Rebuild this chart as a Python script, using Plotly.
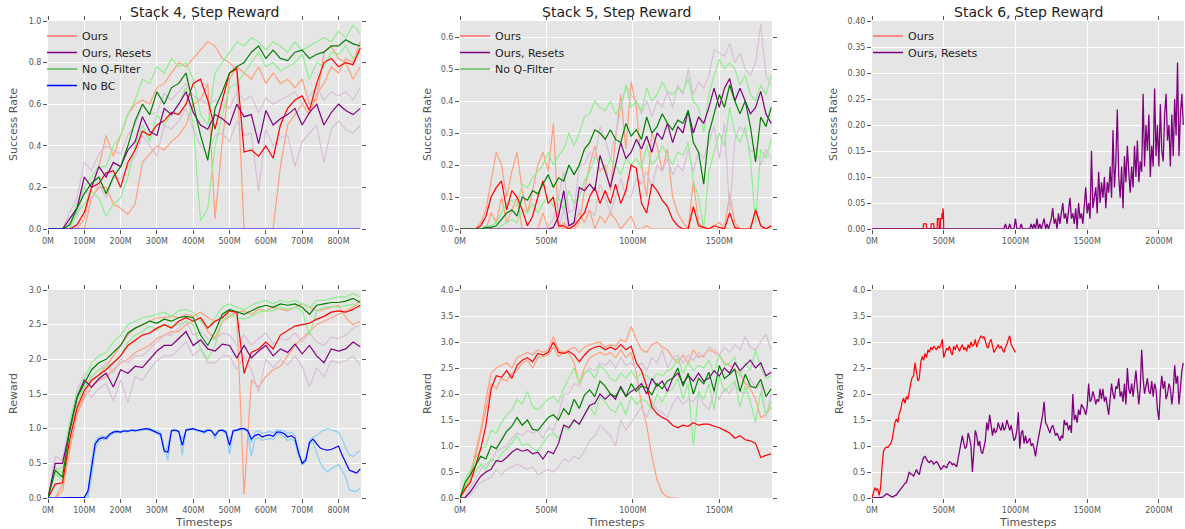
import plotly.graph_objects as go

# ---------------- colours
RED = "#FF0000"; SALMON = "#FFA07A"
PURPLE = "#800080"; THISTLE = "#D8BFD8"
GREEN = "#008000"; LIGHTGREEN = "#90EE90"
BLUE = "#0000FF"; LIGHTBLUE = "#87CEFA"

TITLES = ["Stack 4, Step Reward", "Stack 5, Step Reward", "Stack 6, Step Reward"]
LEGEND_NAMES = ["Ours", "Ours, Resets", "No Q-Filter", "No BC"]

# =============== Stack 4 (x step 20M) =================
S4_STEP = 20
S4_SUCC_OURS = [0, 0, 0, 0, 0.02, 0.08, 0.2, 0.22, 0.27, 0.28, 0.2, 0.32, 0.38, 0.47, 0.45, 0.5, 0.52, 0.56, 0.55, 0.6,
                0.7, 0.72, 0.62, 0.48, 0.62, 0.75, 0.77, 0.37, 0.38, 0.35, 0.4, 0.34, 0.5, 0.58, 0.62, 0.64, 0.57, 0.7, 0.8, 0.82,
                0.78, 0.8, 0.79, 0.87]
S4_SUCC_OURS_SEED1 = [0, 0, 0, 0, 0, 0.05, 0.2, 0.3, 0.45, 0.35, 0.45, 0.55, 0.6, 0.62, 0.6, 0.68, 0.7, 0.75, 0.8, 0.78,
                      0.82, 0.86, 0.9, 0.88, 0.82, 0.8, 0.76, 0, 0, 0, 0, 0, 0.3, 0.5, 0.55, 0.6, 0.55, 0.65, 0.7, 0.78,
                      0.75, 0.82, 0.8, 0.9]
S4_SUCC_OURS_SEED2 = [0, 0, 0, 0, 0, 0, 0.15, 0.2, 0.2, 0.12, 0.1, 0.07, 0.12, 0.32, 0.36, 0.4, 0.38, 0.42, 0.45, 0.5,
                      0.6, 0.62, 0.7, 0.05, 0.42, 0.72, 0.78, 0.75, 0.72, 0.78, 0.7, 0.75, 0.7, 0.72, 0.68, 0.72, 0.6, 0.62,
                      0.85, 0.88, 0.82, 0.8, 0.72, 0.78]
S4_SUCC_RESETS = [0, 0, 0, 0.05, 0.1, 0.25, 0.2, 0.3, 0.25, 0.32, 0.3, 0.38, 0.42, 0.54, 0.47, 0.45, 0.58, 0.55, 0.6, 0.66,
                  0.56, 0.5, 0.48, 0.55, 0.53, 0.5, 0.6, 0.54, 0.55, 0.41, 0.57, 0.5, 0.53, 0.55, 0.58, 0.5, 0.56, 0.6, 0.5,
                  0.56, 0.6, 0.57, 0.55, 0.58]
S4_SUCC_RESETS_SEED1 = [0, 0, 0, 0.08, 0.15, 0.32, 0.28, 0.36, 0.4, 0.38, 0.36, 0.45, 0.5, 0.6, 0.55, 0.56, 0.65, 0.62, 0.66,
                        0.7, 0.64, 0.62, 0.6, 0.62, 0.6, 0.58, 0.66, 0.62, 0.64, 0.56, 0.63, 0.6, 0.62, 0.64, 0.66, 0.6,
                        0.64, 0.68, 0.62, 0.66, 0.64, 0.66, 0.62, 0.68]
S4_SUCC_RESETS_SEED2 = [0, 0, 0, 0.03, 0.06, 0.2, 0.14, 0.22, 0.15, 0.25, 0.24, 0.3, 0.35, 0.45, 0.4, 0.35, 0.5, 0.48, 0.52,
                        0.58, 0.48, 0.4, 0.36, 0.45, 0.46, 0.42, 0.52, 0.45, 0.46, 0.18, 0.48, 0.4, 0.44, 0.45, 0.3, 0.42,
                        0.46, 0.5, 0.32, 0.48, 0.52, 0.48, 0.46, 0.5]
S4_SUCC_NOQ = [0, 0, 0, 0.02, 0.1, 0.17, 0.22, 0.25, 0.17, 0.25, 0.3, 0.4, 0.52, 0.6, 0.55, 0.66, 0.6, 0.68, 0.7, 0.75,
               0.6, 0.45, 0.33, 0.58, 0.66, 0.75, 0.78, 0.8, 0.85, 0.88, 0.82, 0.86, 0.82, 0.81, 0.85, 0.86, 0.82, 0.84,
               0.85, 0.88, 0.88, 0.91, 0.89, 0.88]
S4_SUCC_NOQ_SEED1 = [0, 0, 0, 0.02, 0.12, 0.2, 0.25, 0.3, 0.3, 0.4, 0.45, 0.55, 0.62, 0.72, 0.7, 0.78, 0.75, 0.82, 0.78, 0.8,
                     0.72, 0.55, 0.5, 0.75, 0.8, 0.85, 0.9, 0.88, 0.92, 0.9, 0.86, 0.9, 0.88, 0.85, 0.9, 0.86, 0.88, 0.9,
                     0.92, 0.9, 0.95, 0.92, 0.98, 0.94]
S4_SUCC_NOQ_SEED2 = [0, 0, 0, 0, 0.08, 0.12, 0.18, 0.15, 0.06, 0.12, 0.15, 0.25, 0.4, 0.5, 0.42, 0.55, 0.5, 0.55, 0.6, 0.68,
                     0.5, 0.04, 0.1, 0.4, 0.55, 0.68, 0.7, 0.75, 0.8, 0.85, 0.78, 0.8, 0.76, 0.78, 0.8, 0.84, 0.72, 0.8,
                     0.78, 0.85, 0.84, 0.88, 0.82, 0.85]
S4_SUCC_NOBC = [0.0] * 44

S4_REW_OURS = [0, 0.2, 0.22, 0.85, 1.3, 1.55, 1.7, 1.78, 1.85, 1.95, 2.05, 2.2, 2.28, 2.35, 2.38, 2.45, 2.5, 2.45, 2.55, 2.6,
               2.55, 2.6, 2.45, 2.55, 2.6, 2.7, 2.68, 1.8, 2.1, 2.15, 2.25, 2.15, 2.35, 2.42, 2.48, 2.5, 2.52, 2.58, 2.62,
               2.68, 2.7, 2.68, 2.72, 2.78]
S4_REW_OURS_SEED1 = [0, 0, 0.2, 0.75, 1.25, 1.5, 1.68, 1.78, 1.9, 2.05, 2.2, 2.35, 2.45, 2.5, 2.55, 2.6, 2.6, 2.62, 2.6, 2.65,
                     2.62, 2.68, 2.6, 2.55, 2.6, 2.7, 2.65, 0.05, 1.7, 1.6, 1.75, 1.85, 1.9, 2.05, 2.2, 2.3, 2.4, 2.5, 2.55,
                     2.6, 2.65, 2.7, 2.75, 2.85]
S4_REW_OURS_SEED2 = [0, 0, 0.1, 0.7, 1.2, 1.45, 1.6, 1.7, 1.75, 1.85, 1.95, 2.0, 2.1, 2.15, 2.2, 2.3, 2.35, 2.4, 2.4, 2.5,
                     2.55, 2.6, 2.4, 2.3, 2.55, 2.62, 2.68, 2.7, 2.65, 2.72, 2.7, 2.75, 2.72, 2.7, 2.75, 2.8, 2.75, 2.7,
                     2.72, 2.75, 2.78, 2.6, 2.5, 2.55]
S4_REW_RESETS = [0, 0.5, 0.5, 1.0, 1.45, 1.7, 1.6, 1.72, 1.8, 1.6, 1.85, 1.8, 1.9, 1.88, 2.0, 2.12, 2.2, 2.2, 2.3, 2.4,
                 2.2, 2.28, 2.15, 2.12, 2.22, 2.2, 2.02, 2.2, 2.02, 2.12, 2.2, 2.05, 2.15, 2.1, 2.22, 2.08, 2.2, 2.05, 1.95,
                 2.15, 2.12, 2.15, 2.25, 2.18]
S4_REW_RESETS_SEED1 = [0, 0.6, 0.55, 1.1, 1.55, 1.8, 1.75, 1.85, 1.95, 1.8, 2.0, 1.95, 2.05, 2.05, 2.15, 2.25, 2.35, 2.35,
                       2.45, 2.55, 2.35, 2.4, 2.3, 2.28, 2.38, 2.35, 2.2, 2.35, 2.2, 2.3, 2.38, 2.22, 2.3, 2.28, 2.38, 2.25,
                       2.38, 2.25, 2.2, 2.32, 2.3, 2.35, 2.45, 2.5]
S4_REW_RESETS_SEED2 = [0, 0.4, 0.45, 0.9, 1.35, 1.6, 1.45, 1.58, 1.65, 1.4, 1.7, 1.38, 1.75, 1.7, 1.85, 1.98, 2.05, 2.05,
                       2.15, 2.25, 2.05, 2.15, 1.95, 1.95, 2.05, 2.05, 1.85, 2.05, 1.85, 1.52, 2.0, 1.88, 2.0, 1.92, 2.05,
                       1.9, 1.6, 1.88, 1.75, 1.98, 1.95, 1.98, 2.05, 1.92]
S4_REW_NOQ = [0, 0.4, 0.3, 1.0, 1.45, 1.65, 1.85, 1.95, 2.0, 2.1, 2.2, 2.38, 2.45, 2.5, 2.55, 2.52, 2.58, 2.55, 2.6, 2.62,
              2.6, 2.35, 2.2, 2.4, 2.65, 2.72, 2.68, 2.65, 2.7, 2.75, 2.78, 2.75, 2.8, 2.78, 2.8, 2.75, 2.65, 2.78, 2.8,
              2.82, 2.82, 2.84, 2.88, 2.82]
S4_REW_NOQ_SEED1 = [0, 0.45, 0.35, 1.1, 1.5, 1.72, 1.95, 2.05, 2.1, 2.25, 2.35, 2.5, 2.55, 2.6, 2.62, 2.65, 2.68, 2.62, 2.7,
                    2.72, 2.68, 2.55, 2.45, 2.6, 2.75, 2.8, 2.75, 2.72, 2.78, 2.82, 2.85, 2.8, 2.85, 2.82, 2.85, 2.8, 2.75,
                    2.85, 2.85, 2.88, 2.9, 2.9, 2.95, 2.9]
S4_REW_NOQ_SEED2 = [0, 0.35, 0.25, 0.95, 1.4, 1.6, 1.75, 1.85, 1.9, 1.95, 2.05, 2.25, 2.35, 2.4, 2.48, 2.42, 2.5, 2.48, 2.5,
                    2.55, 2.5, 2.15, 2.0, 2.2, 2.55, 2.65, 2.6, 2.58, 2.62, 2.68, 2.7, 2.7, 2.75, 2.72, 2.75, 2.7, 2.35,
                    2.7, 2.75, 2.76, 2.75, 2.78, 2.8, 2.75]
# No BC reward sampled every 10M
S4_NOBC_STEP = 10
S4_REW_NOBC = [0, 0, 0, 0, 0, 0, 0, 0, 0, 0, 0.01, 0.1, 0.45, 0.78, 0.85, 0.87, 0.86, 0.92, 0.95, 0.96,
               0.95, 0.97, 0.96, 0.98, 0.97, 0.98, 0.99, 1.0, 0.99, 0.97, 0.95, 0.92, 0.68, 0.66, 0.97, 0.98, 0.96, 0.76,
               0.98, 0.99, 1.0, 0.98, 0.97, 0.95, 0.98, 0.97, 0.9, 0.97, 0.98, 0.95, 0.76, 0.97, 0.98, 1.0, 1.0, 0.97,
               0.85, 0.9, 0.92, 0.88, 0.9, 0.91, 0.89, 0.95, 0.95, 0.93, 0.88, 0.9, 0.86, 0.65, 0.5, 0.55, 0.8, 0.85,
               0.78, 0.72, 0.7, 0.69, 0.7, 0.72, 0.75, 0.62, 0.5, 0.4, 0.38, 0.36, 0.42]
S4_REW_NOBC_SEED1 = [0, 0, 0, 0, 0, 0, 0, 0, 0, 0, 0, 0.05, 0.55, 0.82, 0.88, 0.9, 0.88, 0.93, 0.96, 0.97,
                     0.96, 0.98, 0.97, 0.99, 0.98, 0.99, 1.0, 1.0, 1.0, 0.99, 0.97, 0.95, 0.72, 0.55, 0.98, 0.99, 0.97,
                     0.62, 0.99, 1.0, 1.0, 0.99, 0.98, 0.97, 0.99, 0.98, 0.85, 0.98, 0.99, 0.97, 0.63, 0.98, 0.99, 1.0,
                     1.0, 0.99, 0.8, 0.95, 0.97, 0.93, 0.95, 0.96, 0.94, 0.98, 0.98, 0.97, 0.93, 0.95, 0.9, 0.68, 0.48,
                     0.52, 0.82, 0.88, 0.9, 0.95, 0.98, 1.0, 0.98, 0.97, 0.95, 0.85, 0.72, 0.62, 0.6, 0.65, 0.68]
S4_REW_NOBC_SEED2 = [0, 0, 0, 0, 0, 0, 0, 0, 0, 0, 0, 0, 0.3, 0.7, 0.82, 0.84, 0.84, 0.9, 0.93, 0.95,
                     0.94, 0.96, 0.95, 0.97, 0.96, 0.97, 0.98, 0.99, 0.98, 0.95, 0.93, 0.9, 0.65, 0.75, 0.96, 0.97, 0.95,
                     0.85, 0.97, 0.98, 0.99, 0.97, 0.96, 0.93, 0.97, 0.96, 0.92, 0.96, 0.97, 0.93, 0.85, 0.96, 0.97, 0.99,
                     0.99, 0.95, 0.6, 0.85, 0.87, 0.83, 0.85, 0.86, 0.84, 0.92, 0.92, 0.89, 0.83, 0.85, 0.82, 0.6, 0.52,
                     0.58, 0.78, 0.8, 0.65, 0.5, 0.42, 0.38, 0.42, 0.45, 0.48, 0.4, 0.3, 0.12, 0.1, 0.1, 0.14]

# =============== Stack 5 (x step 30M) =================
S5_STEP = 30
S5_SUCC_OURS = [0, 0, 0, 0, 0.01, 0.04, 0.1, 0.13, 0.15, 0.06, 0.12, 0.1, 0.06, 0.01, 0.04, 0.1, 0.15, 0.08, 0.1, 0.01,
                0.01, 0.0, 0.01, 0.03, 0.05, 0.1, 0.13, 0.08, 0.12, 0.08, 0.14, 0.08, 0.12, 0.2, 0.19, 0.08, 0.05, 0.14,
                0.12, 0.09, 0.07, 0.03, 0.01, 0.0, 0.0, 0.07, 0.01, 0.005, 0.0, 0.01, 0.005, 0.0, 0.05, 0.005, 0.0, 0.0,
                0.0, 0.06, 0.01, 0.0, 0.01]
S5_SUCC_OURS_SEED1 = [0, 0, 0, 0, 0.02, 0.06, 0.15, 0.24, 0.2, 0.1, 0.18, 0.24, 0.12, 0.05, 0.12, 0.2, 0.24, 0.18, 0.33,
                      0.02, 0.0, 0.0, 0.02, 0.05, 0.02, 0.06, 0.0, 0.04, 0.02, 0.05, 0.03, 0.0, 0.02, 0.04, 0.0, 0.0, 0.01,
                      0, 0, 0, 0, 0, 0, 0, 0, 0, 0, 0, 0, 0, 0, 0, 0, 0, 0, 0, 0, 0, 0, 0, 0]
S5_SUCC_OURS_SEED2 = [0, 0, 0, 0, 0, 0, 0.05, 0.02, 0.1, 0.02, 0.06, 0.1, 0.0, 0.0, 0.0, 0.0, 0.05, 0.0, 0.0, 0.0,
                      0.02, 0.0, 0.0, 0.02, 0.12, 0.2, 0.26, 0.18, 0.2, 0.12, 0.28, 0.42, 0.25, 0.46, 0.38, 0.2, 0.1, 0.3,
                      0.26, 0.18, 0.25, 0.1, 0.05, 0.02, 0.0, 0.15, 0.02, 0.0, 0.0, 0.01, 0.02, 0.0, 0.11, 0.02, 0.0, 0.0,
                      0.0, 0.06, 0.01, 0.0, 0.01]
S5_SUCC_RESETS = [0, 0, 0, 0, 0, 0, 0, 0, 0, 0, 0, 0, 0, 0, 0, 0, 0, 0,
                  0.005, 0.04, 0.12, 0.01, 0.02, 0.13, 0.12, 0.14, 0.12, 0.23, 0.18, 0.13, 0.2, 0.27, 0.22, 0.24, 0.28,
                  0.25, 0.29, 0.24, 0.3, 0.28, 0.33, 0.27, 0.32, 0.3, 0.37, 0.3, 0.35, 0.33, 0.38, 0.44, 0.38, 0.44, 0.47,
                  0.4, 0.44, 0.4, 0.36, 0.38, 0.43, 0.36, 0.33]
S5_SUCC_RESETS_SEED1 = [0, 0, 0, 0, 0, 0, 0, 0, 0, 0, 0, 0, 0, 0, 0, 0, 0,
                        0.01, 0.03, 0.1, 0.18, 0.05, 0.06, 0.2, 0.2, 0.24, 0.22, 0.32, 0.28, 0.22, 0.3, 0.38, 0.45, 0.42,
                        0.4, 0.36, 0.4, 0.35, 0.4, 0.38, 0.43, 0.38, 0.45, 0.42, 0.5, 0.42, 0.46, 0.44, 0.48, 0.56, 0.55,
                        0.54, 0.58, 0.52, 0.55, 0.5, 0.48, 0.52, 0.64, 0.48, 0.45]
S5_SUCC_RESETS_SEED2 = [0, 0, 0, 0, 0, 0, 0, 0, 0, 0, 0, 0, 0, 0, 0, 0, 0, 0, 0, 0,
                        0.06, 0.0, 0.0, 0.06, 0.05, 0.06, 0.04, 0.14, 0.1, 0.05, 0.1, 0.16, 0.1, 0.1, 0.16, 0.14, 0.18,
                        0.13, 0.2, 0.18, 0.22, 0.17, 0.2, 0.18, 0.25, 0.18, 0.24, 0.22, 0.27, 0.32, 0.22, 0.33, 0.05, 0.28,
                        0.32, 0.3, 0.24, 0.25, 0.2, 0.25, 0.22]
S5_SUCC_NOQ = [0, 0, 0, 0, 0, 0.005, 0.005, 0.01, 0.03, 0.05, 0.06, 0.04, 0.1, 0.09, 0.12, 0.11, 0.14, 0.17, 0.13, 0.16,
               0.15, 0.2, 0.17, 0.2, 0.25, 0.27, 0.31, 0.3, 0.28, 0.31, 0.28, 0.27, 0.33, 0.29, 0.31, 0.28, 0.35, 0.3,
               0.32, 0.36, 0.33, 0.31, 0.34, 0.33, 0.37, 0.27, 0.24, 0.14, 0.3, 0.36, 0.42, 0.38, 0.45, 0.4, 0.36, 0.4,
               0.32, 0.21, 0.35, 0.32, 0.38]
S5_SUCC_NOQ_SEED1 = [0, 0, 0, 0, 0, 0.01, 0.01, 0.02, 0.05, 0.08, 0.09, 0.07, 0.14, 0.13, 0.16, 0.18, 0.2, 0.24, 0.2, 0.23,
                     0.25, 0.3, 0.26, 0.3, 0.35, 0.36, 0.4, 0.38, 0.37, 0.4, 0.36, 0.38, 0.45, 0.38, 0.4, 0.37, 0.44, 0.4,
                     0.42, 0.46, 0.43, 0.42, 0.44, 0.43, 0.47, 0.4, 0.38, 0.3, 0.42, 0.48, 0.53, 0.5, 0.52, 0.5, 0.45,
                     0.48, 0.42, 0.4, 0.45, 0.42, 0.48]
S5_SUCC_NOQ_SEED2 = [0, 0, 0, 0, 0, 0, 0, 0, 0.01, 0.02, 0.03, 0.02, 0.06, 0.05, 0.08, 0.05, 0.08, 0.1, 0.07, 0.1,
                     0.06, 0.12, 0.08, 0.1, 0.15, 0.18, 0.22, 0.22, 0.18, 0.22, 0.2, 0.17, 0.22, 0.2, 0.22, 0.19, 0.26, 0.2,
                     0.22, 0.26, 0.23, 0.2, 0.24, 0.23, 0.27, 0.15, 0.1, 0.0, 0.18, 0.24, 0.3, 0.26, 0.38, 0.3, 0.27, 0.32,
                     0.22, 0.02, 0.25, 0.22, 0.28]

S5_REW_OURS = [0, 0.18, 0.3, 0.65, 0.95, 1.4, 2.1, 2.35, 2.32, 2.45, 2.3, 2.55, 2.65, 2.7, 2.62, 2.78, 2.75, 2.8, 3.0, 2.8,
               2.78, 2.82, 2.75, 2.62, 2.75, 2.85, 2.9, 2.92, 2.85, 2.9, 2.85, 2.95, 2.85, 2.92, 2.6, 2.45, 2.15, 1.75,
               1.62, 1.55, 1.5, 1.4, 1.35, 1.4, 1.38, 1.45, 1.4, 1.42, 1.42, 1.38, 1.35, 1.3, 1.25, 1.15, 1.2, 1.12, 1.1,
               1.05, 0.78, 0.82, 0.85]
S5_REW_OURS_SEED1 = [0, 0.2, 0.45, 0.9, 1.3, 1.9, 2.4, 2.5, 2.55, 2.6, 2.5, 2.7, 2.75, 2.8, 2.75, 2.85, 2.8, 2.85, 3.1, 2.85,
                     2.8, 2.78, 2.6, 2.2, 2.5, 2.7, 2.75, 2.8, 2.75, 2.8, 2.7, 2.85, 2.7, 2.8, 2.4, 1.8, 1.4, 0.8, 0.35,
                     0.1, 0.02, 0.0, 0.0]
S5_REW_OURS_SEED2 = [0, 0.15, 0.35, 0.8, 1.2, 1.7, 2.2, 2.1, 2.3, 2.25, 2.4, 2.45, 2.6, 2.65, 2.5, 2.7, 2.72, 2.75, 2.9,
                     2.72, 2.8, 2.85, 2.9, 2.8, 2.9, 2.95, 2.98, 3.0, 2.9, 2.95, 2.92, 3.05, 3.0, 3.3, 3.05, 2.85, 2.8,
                     2.95, 3.0, 2.9, 2.85, 2.7, 2.6, 2.75, 2.6, 2.85, 2.7, 2.75, 2.85, 2.8, 2.75, 2.6, 2.55, 2.45, 2.4,
                     2.2, 2.1, 1.9, 1.55, 1.6, 1.75]
S5_REW_RESETS = [0, 0.01, 0.12, 0.28, 0.42, 0.5, 0.55, 0.72, 0.7, 0.78, 0.88, 0.95, 0.9, 0.93, 0.85, 0.88, 0.75, 0.9, 0.85,
                 1.05, 1.4, 1.35, 1.5, 1.42, 1.6, 1.78, 1.82, 2.0, 1.9, 2.0, 1.9, 2.15, 1.95, 2.05, 2.1, 2.2, 2.0, 2.3,
                 2.15, 2.25, 2.05, 2.3, 2.4, 2.2, 2.35, 2.25, 2.4, 2.25, 2.3, 2.45, 2.35, 2.5, 2.4, 2.6, 2.45, 2.55, 2.65,
                 2.5, 2.6, 2.35, 2.42]
S5_REW_RESETS_SEED1 = [0, 0.02, 0.2, 0.35, 0.55, 0.65, 0.7, 0.9, 0.95, 1.0, 1.15, 1.25, 1.2, 1.3, 1.25, 1.3, 1.15, 1.35,
                       1.3, 1.6, 2.0, 2.0, 2.2, 2.15, 2.4, 2.5, 2.45, 2.6, 2.55, 2.65, 2.5, 2.7, 2.55, 2.6, 2.5, 2.6, 2.45,
                       2.7, 2.6, 2.85, 2.5, 2.7, 2.75, 2.6, 2.75, 2.65, 2.8, 2.7, 2.9, 2.85, 2.75, 2.9, 2.8, 2.95, 2.85,
                       3.1, 2.9, 2.85, 3.0, 3.15, 2.85]
S5_REW_RESETS_SEED2 = [0, 0.0, 0.05, 0.2, 0.3, 0.35, 0.4, 0.55, 0.45, 0.55, 0.6, 0.65, 0.6, 0.55, 0.6, 0.45, 0.5, 0.55, 0.5,
                       0.6, 0.75, 0.7, 0.8, 0.75, 0.9, 1.1, 1.2, 1.4, 1.3, 1.2, 1.0, 1.5, 1.3, 1.45, 1.6, 1.75, 1.55, 1.85,
                       1.7, 1.65, 1.55, 1.8, 1.95, 1.8, 1.9, 1.85, 2.0, 1.8, 1.7, 2.05, 1.9, 2.1, 2.0, 2.2, 2.05, 2.0, 2.3,
                       2.1, 2.2, 1.55, 2.0]
S5_REW_NOQ = [0, 0.3, 0.45, 0.62, 0.8, 0.75, 1.0, 0.95, 1.12, 1.28, 1.38, 1.55, 1.4, 1.5, 1.32, 1.3, 1.42, 1.55, 1.6, 1.5,
              1.72, 1.6, 1.9, 1.72, 1.98, 2.08, 1.95, 2.25, 2.15, 2.0, 1.95, 2.12, 1.95, 2.2, 2.05, 2.15, 2.12, 1.98,
              2.2, 2.1, 2.25, 2.3, 2.5, 2.15, 2.4, 2.0, 2.3, 2.2, 2.42, 2.05, 2.55, 2.3, 2.38, 2.48, 2.05, 2.38, 2.15,
              2.12, 2.28, 1.95, 2.1]
S5_REW_NOQ_SEED1 = [0, 0.35, 0.55, 0.75, 0.95, 1.0, 1.3, 1.25, 1.45, 1.6, 1.7, 1.9, 1.8, 2.05, 1.75, 1.7, 1.8, 1.9, 1.95,
                    1.85, 2.1, 2.3, 2.5, 2.2, 2.4, 2.45, 2.3, 2.55, 2.45, 2.3, 2.25, 2.4, 2.3, 2.45, 2.3, 2.4, 2.35, 2.25,
                    2.4, 2.35, 2.45, 2.5, 2.7, 2.4, 2.6, 2.45, 2.55, 2.5, 2.65, 2.4, 2.75, 2.55, 2.6, 2.7, 2.35, 2.6,
                    2.45, 2.85, 2.5, 2.3, 2.35]
S5_REW_NOQ_SEED2 = [0, 0.25, 0.35, 0.5, 0.65, 0.55, 0.75, 0.7, 0.85, 0.95, 1.05, 1.2, 1.0, 1.05, 0.95, 0.9, 1.05, 1.2, 1.25,
                    1.15, 1.35, 1.3, 1.5, 1.4, 1.6, 1.75, 1.6, 1.95, 1.85, 1.7, 1.65, 1.85, 1.6, 1.95, 1.8, 1.9, 1.85,
                    1.7, 2.0, 1.85, 2.05, 2.1, 2.3, 1.9, 2.2, 1.0, 2.05, 1.9, 2.2, 1.7, 2.35, 2.05, 2.15, 2.25, 1.75, 2.15,
                    1.85, 1.45, 2.05, 1.6, 1.85]

# =============== Stack 6 =================
S6_SUCC_OURS_X = [0, 355, 360, 378, 382, 410, 413, 430, 434, 454, 456, 466, 469, 476, 478, 486, 488, 492, 495, 498, 500]
S6_SUCC_OURS = [0, 0, 0.01, 0.01, 0, 0, 0.01, 0.01, 0, 0, 0.02, 0.02, 0, 0, 0.02, 0.02, 0.03, 0.02, 0.04, 0.03, 0]
S6_SUCC_STEP = 10
S6_SUCC_RESETS = [0.0] * 90 + [
    0, 0, 0, 0.01, 0, 0, 0.01, 0, 0, 0, 0.02,
    0, 0, 0, 0.01, 0, 0, 0, 0, 0, 0,
    0.01, 0, 0.01, 0, 0.02, 0, 0.01, 0, 0.01, 0.02,
    0, 0.01, 0, 0.01, 0.02, 0.04, 0.01, 0.02, 0, 0.03,
    0.01, 0.03, 0.05, 0.02, 0.03, 0.01, 0.04, 0.06, 0.02, 0.03,
    0.01, 0.04, 0.0, 0.05, 0.02, 0.03, 0.01, 0.04, 0.08, 0.03,
    0.05, 0.02, 0.15, 0.04, 0.06, 0.08, 0.03, 0.11, 0.05, 0.09,
    0.06, 0.1, 0.04, 0.09, 0.07, 0.12, 0.06, 0.19, 0.08, 0.13,
    0.23, 0.1, 0.06, 0.12, 0.04, 0.14, 0.09, 0.16, 0.11, 0.07,
    0.12, 0.08, 0.16, 0.1, 0.17, 0.09, 0.13, 0.11, 0.26, 0.12,
    0.2, 0.15, 0.22, 0.1, 0.16, 0.12, 0.27, 0.14, 0.2, 0.12,
    0.24, 0.15, 0.13, 0.22, 0.26, 0.17, 0.2, 0.12, 0.22, 0.14,
    0.25, 0.18, 0.32, 0.14, 0.22, 0.26, 0.2]

S6_REW_OURS_STEP = 10
S6_REW_OURS = [0, 0.12, 0.2, 0.15, 0.18, 0.05, 0.2, 0.6, 0.9, 0.95, 0.98, 0.97, 1.0, 1.05, 1.12, 1.3, 1.45, 1.52, 1.45,
               1.62, 1.7, 1.85, 1.92, 1.82, 1.95, 1.9, 2.08, 2.2, 2.32, 2.35, 2.6, 2.4, 2.25, 2.3, 2.62, 2.72, 2.65,
               2.78, 2.7, 2.85, 2.8, 2.9, 2.85, 2.92, 2.88, 2.85, 2.92, 2.88, 2.95, 3.05, 2.7, 2.8, 2.88, 2.85, 2.92,
               2.8, 2.75, 2.92, 2.85, 2.95, 2.88, 2.82, 2.9, 2.95, 2.85, 2.9, 2.82, 2.95, 2.88, 3.0, 2.92, 2.95, 3.05,
               2.9, 3.0, 3.05, 3.12, 3.08, 3.1, 3.02, 2.92, 2.88, 3.0, 3.05, 2.95, 2.8, 2.85, 2.9, 2.95, 2.88, 2.92,
               2.85, 2.8, 2.9, 2.95, 3.05, 3.12, 2.95, 2.9, 2.85, 2.8]
S6_REW_RESETS_STEP = 10
S6_REW_RESETS = [0, 0, 0, 0, 0, 0, 0.0, 0.01, 0.03, 0.06, 0.08, 0.07, 0.05, 0.03, 0.02, 0.03, 0.04, 0.06, 0.1, 0.14, 0.18,
                 0.22, 0.25, 0.28, 0.3, 0.42, 0.5, 0.46, 0.45, 0.42, 0.5, 0.55, 0.48, 0.45, 0.6, 0.7, 0.78, 0.8, 0.74, 0.7, 0.68,
                 0.72, 0.7, 0.65, 0.68, 0.7, 0.66, 0.6, 0.55, 0.58, 0.62, 0.6, 0.58, 0.65, 0.7, 0.68, 0.64, 0.66, 0.62, 0.6, 0.75,
                 0.9, 1.1, 1.2, 1.05, 0.95, 1.0, 1.25, 1.15, 1.0, 0.5, 0.85, 1.3, 1.2, 1.0, 1.1, 0.9, 0.85, 0.95, 1.1, 1.45,
                 1.3, 1.6, 1.4, 1.2, 1.35, 1.25, 1.3, 1.45, 1.35, 1.3, 1.45, 1.3, 1.35, 1.5, 1.4, 1.3, 1.4, 1.2, 1.1, 1.15,
                 1.3, 1.65, 0.95, 1.25, 1.3, 1.05, 1.2, 1.05, 1.1, 1.15, 1.0, 1.05, 0.95, 0.8, 1.0, 1.15, 1.3, 1.4, 1.6, 1.85,
                 1.45, 1.4, 1.3, 1.25, 1.35, 1.4, 1.3, 1.2, 1.25, 1.15, 1.1, 1.2, 1.15, 1.5, 1.4, 1.45, 1.3, 1.4, 1.25, 2.0,
                 1.5, 1.6, 1.45, 1.7, 1.6, 1.8, 1.75, 1.7, 1.6, 1.75, 2.2, 1.85, 1.9, 2.05, 1.95, 1.8, 1.9, 1.85, 2.1, 1.9,
                 2.1, 1.85, 1.95, 1.75, 1.6, 1.9, 2.2, 2.0, 1.9, 2.15, 2.1, 2.3, 1.95, 2.05, 1.85, 2.2, 1.8, 2.5, 2.1, 2.0,
                 2.2, 1.95, 2.2, 2.45, 2.1, 1.8, 2.1, 2.85, 2.3, 2.0, 2.15, 2.3, 2.05, 2.0, 2.25, 1.95, 2.2, 2.1, 1.7, 1.5,
                 2.05, 2.35, 2.1, 2.25, 1.9, 2.0, 2.2, 2.1, 1.8, 2.05, 2.55, 2.2, 2.35, 1.8, 2.1, 2.45, 2.6]


def xs(vals, step, start=0):
    return [start + step * i for i in range(len(vals))]


fig = go.Figure()


def line(ax, x, y, color, width=1.2):
    fig.add_trace(go.Scatter(x=x, y=y, mode="lines", line=dict(color=color, width=width),
                             xaxis="x" + ax, yaxis="y" + ax, showlegend=False, hoverinfo="skip"))


# ---- Stack 4 success (axis 1)
for v, c in [(S4_SUCC_OURS_SEED1, SALMON), (S4_SUCC_OURS_SEED2, SALMON),
             (S4_SUCC_RESETS_SEED1, THISTLE), (S4_SUCC_RESETS_SEED2, THISTLE),
             (S4_SUCC_NOQ_SEED1, LIGHTGREEN), (S4_SUCC_NOQ_SEED2, LIGHTGREEN),
             (S4_SUCC_OURS, RED), (S4_SUCC_RESETS, PURPLE), (S4_SUCC_NOQ, GREEN), (S4_SUCC_NOBC, BLUE)]:
    line("", xs(v, S4_STEP), v, c)

# ---- Stack 4 reward (axis 4)
for v, c in [(S4_REW_OURS_SEED1, SALMON), (S4_REW_OURS_SEED2, SALMON),
             (S4_REW_RESETS_SEED1, THISTLE), (S4_REW_RESETS_SEED2, THISTLE),
             (S4_REW_NOQ_SEED1, LIGHTGREEN), (S4_REW_NOQ_SEED2, LIGHTGREEN)]:
    line("4", xs(v, S4_STEP), v, c)
for v in [S4_REW_NOBC_SEED1, S4_REW_NOBC_SEED2]:
    line("4", xs(v, S4_NOBC_STEP), v, LIGHTBLUE)
for v, c in [(S4_REW_OURS, RED), (S4_REW_RESETS, PURPLE), (S4_REW_NOQ, GREEN)]:
    line("4", xs(v, S4_STEP), v, c)
line("4", xs(S4_REW_NOBC, S4_NOBC_STEP), S4_REW_NOBC, BLUE)

# ---- Stack 5 success (axis 2) and reward (axis 5)
for ax, group in [("2", [(S5_SUCC_OURS_SEED1, SALMON), (S5_SUCC_OURS_SEED2, SALMON),
                         (S5_SUCC_RESETS_SEED1, THISTLE), (S5_SUCC_RESETS_SEED2, THISTLE),
                         (S5_SUCC_NOQ_SEED1, LIGHTGREEN), (S5_SUCC_NOQ_SEED2, LIGHTGREEN),
                         (S5_SUCC_OURS, RED), (S5_SUCC_RESETS, PURPLE), (S5_SUCC_NOQ, GREEN)]),
                  ("5", [(S5_REW_OURS_SEED1, SALMON), (S5_REW_OURS_SEED2, SALMON),
                         (S5_REW_RESETS_SEED1, THISTLE), (S5_REW_RESETS_SEED2, THISTLE),
                         (S5_REW_NOQ_SEED1, LIGHTGREEN), (S5_REW_NOQ_SEED2, LIGHTGREEN),
                         (S5_REW_OURS, RED), (S5_REW_RESETS, PURPLE), (S5_REW_NOQ, GREEN)])]:
    for v, c in group:
        line(ax, xs(v, S5_STEP), v, c)

# ---- Stack 6 success (axis 3) and reward (axis 6)
line("3", xs(S6_SUCC_RESETS, S6_SUCC_STEP), [0.0] * len(S6_SUCC_RESETS), THISTLE)
line("3", S6_SUCC_OURS_X, S6_SUCC_OURS, RED)
line("3", xs(S6_SUCC_RESETS, S6_SUCC_STEP), S6_SUCC_RESETS, PURPLE, 1.3)
line("6", xs(S6_REW_OURS, S6_REW_OURS_STEP), S6_REW_OURS, RED)
line("6", xs(S6_REW_RESETS, S6_REW_RESETS_STEP), S6_REW_RESETS, PURPLE, 1.3)

W, H = 1185, 529

# ---- legends: one small legend per entry so the rows sit at the reference spacing
LEG_COLORS = ["#FF6A6A", PURPLE, "#5CB85C", BLUE]
LEG_ROW_Y = [36, 52.5, 69, 85.5]          # row centres (px from top)
LEG_PANELS = [("", 42, 4), ("2", 455, 3), ("3", 868, 2)]  # axis suffix, left px, number of entries
LEGFONT = dict(family="DejaVu Sans", size=11, color="#222222")
legend_layouts = {}
k = 0
for ax, xl, n in LEG_PANELS:
    for j in range(n):
        k += 1
        lg = "legend" if k == 1 else "legend%d" % k
        fig.add_trace(go.Scatter(x=[None], y=[None], mode="lines", name=LEGEND_NAMES[j],
                                 line=dict(color=LEG_COLORS[j], width=1.5),
                                 xaxis="x" + ax, yaxis="y" + ax, legend=lg, showlegend=True))
        legend_layouts[lg] = dict(x=xl / W, y=1 - LEG_ROW_Y[j] / H, xanchor="left", yanchor="middle",
                                  bgcolor="rgba(0,0,0,0)", font=LEGFONT)

XD = [(48 / W, 361 / W), (460 / W, 772 / W), (872 / W, 1184 / W)]
YD_TOP = (1 - 229 / H, 1 - 21 / H)
YD_BOT = (1 - 498 / H, 1 - 290 / H)
XR = [(0, 862), (0, 1805), (0, 2175)]
XDT = [100, 500, 500]
YR_TOP = [(0, 1.0), (0, 0.65), (0, 0.4)]
YDT_TOP = [0.2, 0.1, 0.05]
YF_TOP = [".1f", ".1f", ".2f"]
YR_BOT = [(0, 3.0), (0, 4.0), (0, 4.0)]

TICKFONT = dict(family="DejaVu Sans", size=8, color="#555555")
common = dict(showgrid=True, gridcolor="white", gridwidth=1, zeroline=False, showline=False,
              ticks="outside", ticklen=4, tickwidth=1, tickcolor="#555555", mirror="ticks",
              tickfont=TICKFONT, fixedrange=True, automargin=False)

layout = dict(width=W, height=H, margin=dict(l=0, r=0, t=0, b=0, pad=0, autoexpand=False),
              paper_bgcolor="white", plot_bgcolor="#E5E5E5",
              font=dict(family="DejaVu Sans", color="#222222"))
layout.update(legend_layouts)
for col in range(3):
    for row in range(2):
        i = row * 3 + col + 1
        s = "" if i == 1 else str(i)
        layout["xaxis" + s] = dict(domain=XD[col], range=XR[col], anchor="y" + s, tick0=0, dtick=XDT[col],
                                   ticksuffix="M", **common)
        if row == 0:
            layout["yaxis" + s] = dict(domain=YD_TOP, range=YR_TOP[col], anchor="x" + s, tick0=0,
                                       dtick=YDT_TOP[col], tickformat=YF_TOP[col], **common)
        else:
            layout["yaxis" + s] = dict(domain=YD_BOT, range=YR_BOT[col], anchor="x" + s, tick0=0,
                                       dtick=0.5, tickformat=".1f", **common)

ann = []
for col, t in enumerate(TITLES):
    ann.append(dict(text=t, x=(XD[col][0] + XD[col][1]) / 2, y=1 - 12 / H, xref="paper", yref="paper",
                    showarrow=False, font=dict(family="DejaVu Sans", size=14, color="#222222"),
                    xanchor="center", yanchor="middle"))
    ann.append(dict(text="Timesteps", x=(XD[col][0] + XD[col][1]) / 2, y=1 - 522 / H, xref="paper", yref="paper",
                    showarrow=False, font=dict(family="DejaVu Sans", size=11, color="#555555"),
                    xanchor="center", yanchor="middle"))
for xpx, ypx, t in [(13, 125, "Success Rate"), (427, 125, "Success Rate"), (833, 125, "Success Rate"),
                    (13, 394, "Reward"), (427, 394, "Reward"), (839, 394, "Reward")]:
    ann.append(dict(text=t, x=xpx / W, y=1 - ypx / H, xref="paper", yref="paper", showarrow=False, textangle=-90,
                    font=dict(family="DejaVu Sans", size=11, color="#555555"), xanchor="center", yanchor="middle"))
layout["annotations"] = ann

fig.update_layout(**layout)
# remove the browser's default 8px page margin so the figure sits at the window's top-left corner
fig.write_html("out.html", config={"displayModeBar": False},
               post_script="document.body.style.margin='0px';document.body.style.overflow='hidden';")
